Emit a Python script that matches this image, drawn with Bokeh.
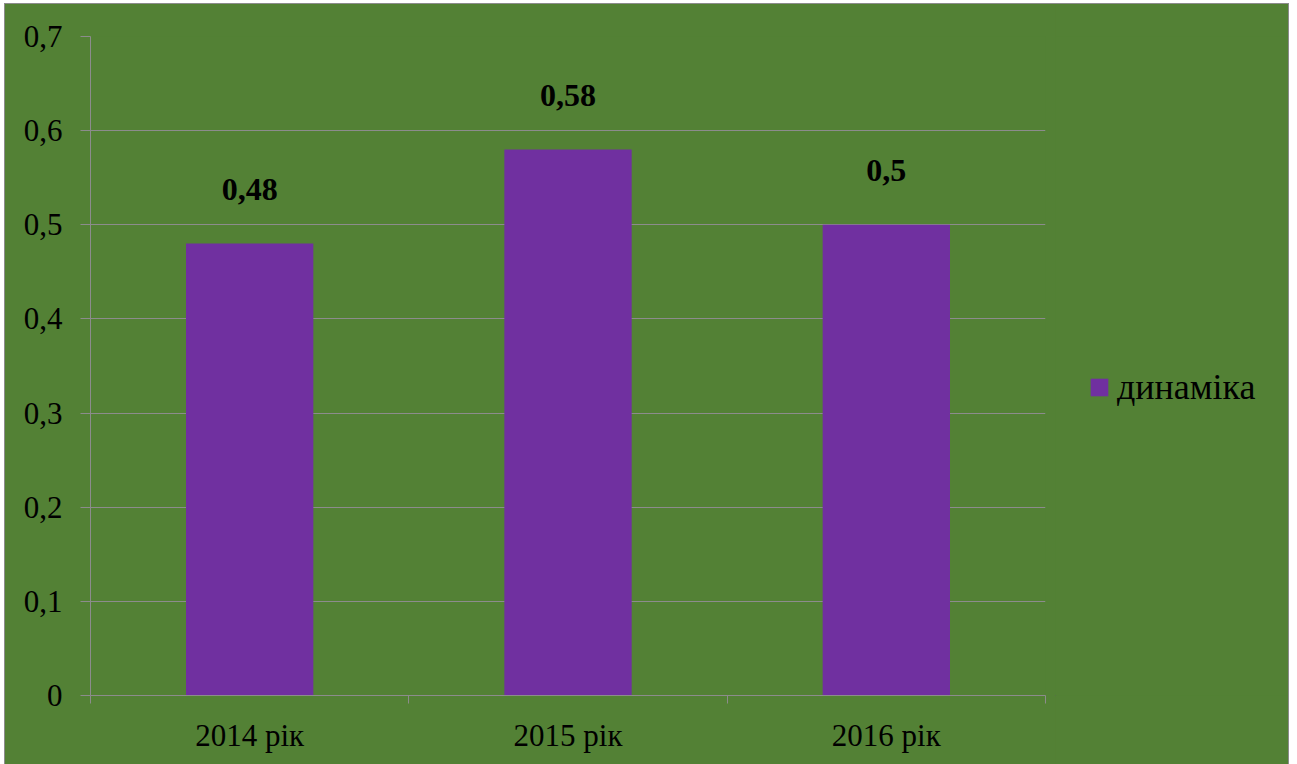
from bokeh.plotting import figure
from bokeh.layouts import row
from bokeh.models import ColumnDataSource, FixedTicker, Range1d, Legend, LegendItem, LabelSet
from bokeh.core.properties import value
from bokeh.embed import file_html
from bokeh.resources import INLINE

categories = ["2014 рік", "2015 рік", "2016 рік"]
values = [0.48, 0.58, 0.5]
labels = ["0,48", "0,58", "0,5"]
y_ticks = [0, 0.1, 0.2, 0.3, 0.4, 0.5, 0.6, 0.7]
y_tick_labels = ["0", "0,1", "0,2", "0,3", "0,4", "0,5", "0,6", "0,7"]
series_name = "динаміка"

GREEN = "#538135"
PURPLE = "#7030A0"
GRAY = "#8c8c8c"
FONT = "Liberation Serif"
FS = "31px"

xs = [i + 0.5 for i in range(len(categories))]
src = ColumnDataSource(dict(x=xs, top=values, lab=labels))

p = figure(width=1050, height=760, output_backend="svg", toolbar_location=None,
           x_range=Range1d(0, len(categories)), y_range=Range1d(0, 0.7))
p.min_border_left = 85
p.min_border_right = 10
p.min_border_top = 32
p.min_border_bottom = 69
p.background_fill_color = GREEN
p.border_fill_color = GREEN
p.outline_line_color = None

r = p.vbar(x="x", top="top", width=0.4, source=src, fill_color=PURPLE, line_color=None)

ls = LabelSet(x="x", y="top", text="lab", source=src, text_align="center",
              text_baseline="middle", y_offset=54, text_font=value(FONT),
              text_font_size="32px", text_font_style="bold", text_color="black")
p.add_layout(ls)

# x axis
p.xaxis.ticker = FixedTicker(ticks=xs, minor_ticks=list(range(len(categories) + 1)))
p.xaxis.major_label_overrides = {x: c for x, c in zip(xs, categories)}
p.xaxis.major_tick_out = 0
p.xaxis.major_tick_in = 0
p.xaxis.minor_tick_out = 8
p.xaxis.minor_tick_in = 0
p.xaxis.minor_tick_line_color = GRAY
p.xaxis.axis_line_color = GRAY
p.xaxis.major_label_text_font = FONT
p.xaxis.major_label_text_font_size = FS
p.xaxis.major_label_text_color = "black"
p.xaxis.major_label_standoff = 14

# y axis
p.yaxis.ticker = FixedTicker(ticks=y_ticks, minor_ticks=[])
p.yaxis.major_label_overrides = {t: l for t, l in zip(y_ticks, y_tick_labels)}
p.yaxis.major_tick_out = 10
p.yaxis.major_tick_in = 0
p.yaxis.major_tick_line_color = GRAY
p.yaxis.axis_line_color = GRAY
p.yaxis.major_label_text_font = FONT
p.yaxis.major_label_text_font_size = FS
p.yaxis.major_label_text_color = "black"
p.yaxis.major_label_standoff = 18

p.xgrid.grid_line_color = None
p.ygrid.grid_line_color = GRAY
p.ygrid.grid_line_width = 1

# legend panel (its own bars lie outside its visible range; only the legend shows)
lg = figure(width=233, height=760, output_backend="svg", toolbar_location=None,
            x_range=Range1d(100, 101), y_range=Range1d(100, 101),
            min_border_left=0, min_border_right=0, min_border_top=0, min_border_bottom=0)
lg.axis.visible = False
lg.grid.grid_line_color = None
lg.background_fill_color = GREEN
lg.border_fill_color = GREEN
lg.outline_line_color = None
lr = lg.vbar(x="x", top="top", width=0.4, source=src, fill_color=PURPLE, line_color=None)
legend = Legend(items=[LegendItem(label=series_name, renderers=[lr])],
                location=(33, 287), background_fill_alpha=0, border_line_color=None,
                padding=0, margin=0, glyph_width=22, glyph_height=22, label_standoff=7,
                label_text_font=FONT, label_text_font_size="36px", label_text_color="black")
lg.add_layout(legend)

layout = row(p, lg, spacing=0)
layout.styles = {"border": "1px solid #8c8c8c", "margin-left": "4px", "margin-top": "3px",
                 "background-color": GREEN}

open("out.html", "w").write(file_html(layout, INLINE))
